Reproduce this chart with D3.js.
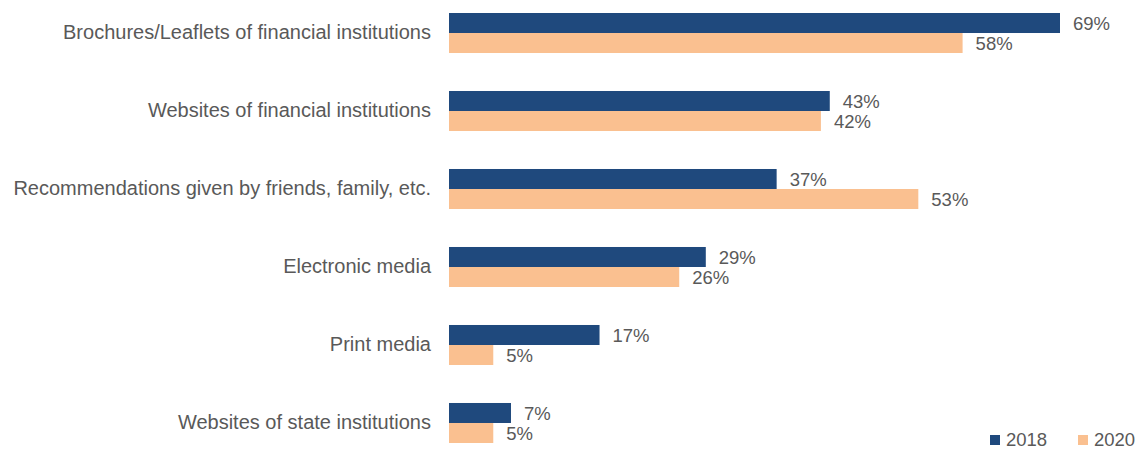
<!DOCTYPE html>
<html>
<head>
<meta charset="utf-8">
<script src="https://cdn.jsdelivr.net/npm/d3@7"></script>
<style>
  body { margin: 0; background: #fff; }
  text { font-family: "Liberation Sans", Arial, sans-serif; fill: #595959; }
</style>
</head>
<body>
<div id="chart"></div>
<script>
// data
var categories = [
	"Brochures/Leaflets of financial institutions",
	"Websites of financial institutions",
	"Recommendations given by friends, family, etc.",
	"Electronic media",
	"Print media",
	"Websites of state institutions"
];
var seriesNames = ["2018", "2020"];
var values2018 = [69, 43, 37, 29, 17, 7];
var values2020 = [58, 42, 53, 26, 5, 5];

var colors = ["#1F497D", "#FAC090"];

var width = 1141, height = 449;

var svg = d3.select("#chart").append("svg")
	.attr("width", width)
	.attr("height", height);

var x = d3.scaleLinear()
	.domain([0, 69])
	.range([449, 1060]);

var y = d3.scaleBand()
	.domain(categories)
	.range([13, 443])
	.paddingInner(0.487)
	.paddingOuter(0);

var y1 = d3.scaleBand()
	.domain(seriesNames)
	.range([0, y.bandwidth()]);

var rows = categories.map(function(c, i){
	return {cat: c, vals: [values2018[i], values2020[i]]};
});

var groups = svg.selectAll(".grp")
	.data(rows)
  .enter().append("g")
	.attr("class", "grp")
	.attr("transform", function(d) { return "translate(0," + y(d.cat) + ")"; });

groups.selectAll("rect")
	.data(function(d) { return d.vals.map(function(v, j){ return {v: v, s: seriesNames[j], j: j}; }); })
  .enter().append("rect")
	.attr("x", x(0))
	.attr("y", function(d) { return y1(d.s); })
	.attr("width", function(d) { return x(d.v) - x(0); })
	.attr("height", y1.bandwidth())
	.style("fill", function(d) { return colors[d.j]; });

groups.selectAll(".val")
	.data(function(d) { return d.vals.map(function(v, j){ return {v: v, s: seriesNames[j]}; }); })
  .enter().append("text")
	.attr("class", "val")
	.attr("x", function(d) { return x(d.v) + 13; })
	.attr("y", function(d) { return y1(d.s) + y1.bandwidth() / 2; })
	.attr("dy", "0.36em")
	.style("font-size", "18.5px")
	.text(function(d) { return d.v + "%"; });

// category labels
var yAxis = d3.axisLeft(y).tickSize(0).tickPadding(18);
var ax = svg.append("g")
	.attr("transform", "translate(" + x(0) + ",0)")
	.call(yAxis);
ax.select(".domain").remove();
ax.selectAll("text")
	.style("font-size", "20px")
	.style("font-family", "Liberation Sans, Arial, sans-serif")
	.attr("fill", "#595959");

// legend
var legend = svg.append("g")
	.attr("transform", "translate(990,440)");
var lx = [0, 88];
seriesNames.forEach(function(s, i){
	legend.append("rect")
		.attr("x", lx[i])
		.attr("y", -5)
		.attr("width", 10)
		.attr("height", 10)
		.style("fill", colors[i]);
	legend.append("text")
		.attr("x", lx[i] + 16)
		.attr("y", 0)
		.attr("dy", "0.35em")
		.style("font-size", "18.5px")
		.text(s);
});
</script>
</body>
</html>
